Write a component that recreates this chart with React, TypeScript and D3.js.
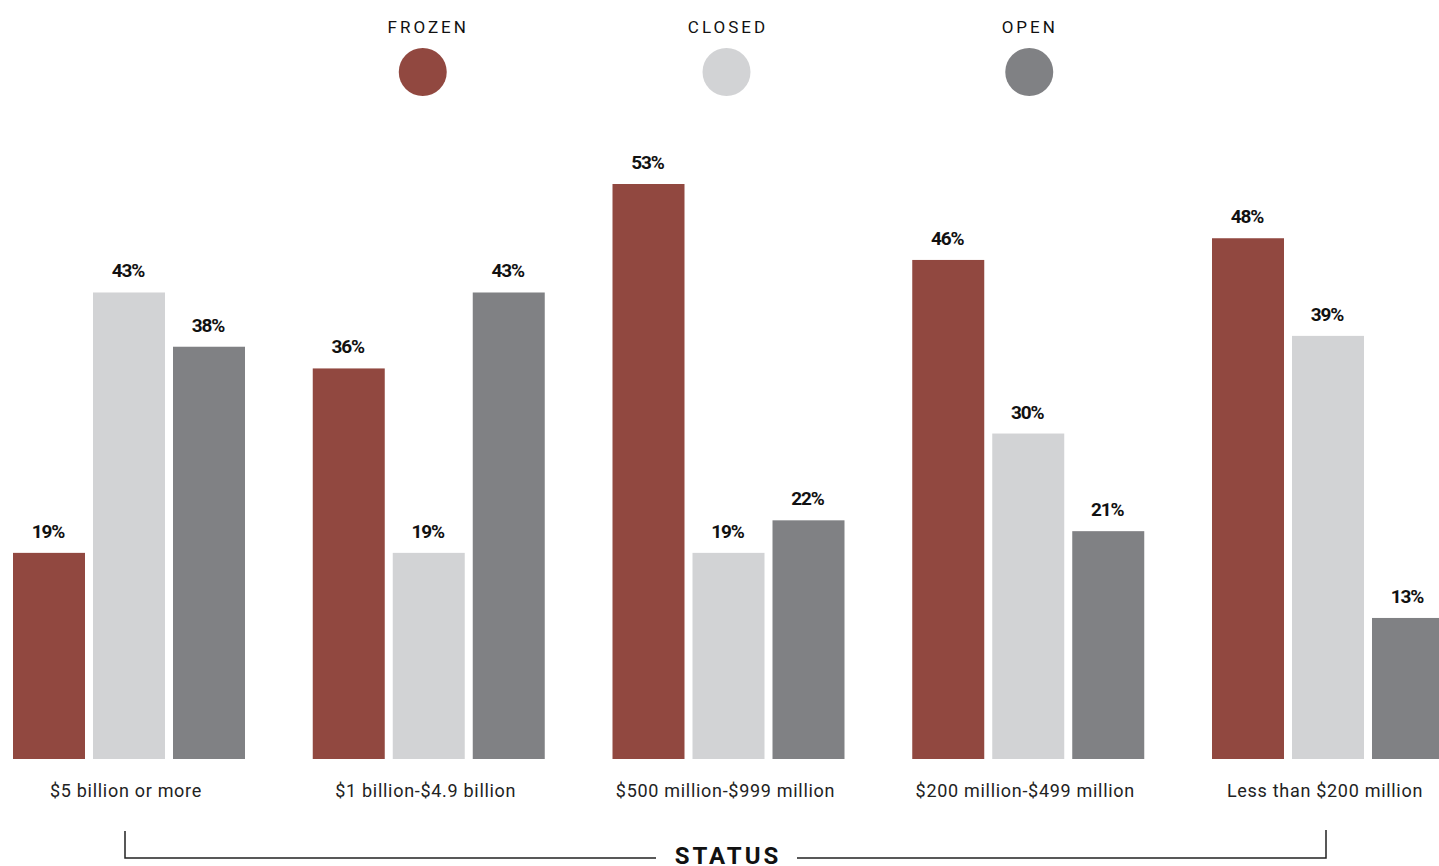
import React from "react";
import * as d3 from "d3";

const categories = [
  "$5 billion or more",
  "$1 billion-$4.9 billion",
  "$500 million-$999 million",
  "$200 million-$499 million",
  "Less than $200 million",
];
const seriesNames = ["FROZEN", "CLOSED", "OPEN"];
const frozen = [19, 36, 53, 46, 48];
const closed = [43, 19, 19, 30, 39];
const open = [38, 43, 22, 21, 13];
const colors = ["#914840", "#d2d3d5", "#808184"];

const W = 1439;
const H = 866;

export default function App() {
  const values = [frozen, closed, open];
  const x0 = d3
    .scaleBand<string>()
    .domain(categories)
    .range([13, 1444])
    .paddingInner(67.75 / 299.75)
    .paddingOuter(0);
  const x1 = d3
    .scaleBand<string>()
    .domain(seriesNames)
    .range([0, x0.bandwidth()])
    .paddingInner(0.1)
    .paddingOuter(0);
  const y = d3.scaleLinear().domain([0, 53]).range([759, 184]);

  const labelFont = "Roboto, 'Liberation Sans', sans-serif";
  const legendX = [
    x0(categories[1])! + x0.bandwidth() / 2 - 6,
    x0(categories[2])! + x0.bandwidth() / 2 - 2,
    x0(categories[3])! + x0.bandwidth() / 2 + 1,
  ];
  const legendTextOffset = [5.5, 1.5, 0.5];

  return (
    <svg
      width={W}
      height={H}
      style={{ position: "absolute", left: 0, top: 0, display: "block", background: "#fff" }}
    >
      {/* legend */}
      {seriesNames.map((s, i) => (
        <g key={s}>
          <text
            x={legendX[i] + legendTextOffset[i]}
            y={33}
            textAnchor="middle"
            fontFamily={labelFont}
            fontSize={17}
            letterSpacing={3}
            fill="#111"
          >
            {s}
          </text>
          <circle cx={legendX[i]} cy={72} r={24} fill={colors[i]} />
        </g>
      ))}

      {/* bars */}
      {categories.map((c, ci) => (
        <g key={c} transform={`translate(${x0(c)},0)`}>
          {seriesNames.map((s, si) => {
            const v = values[si][ci];
            const bx = x1(s)!;
            return (
              <g key={s}>
                <rect x={bx} y={y(v)} width={x1.bandwidth()} height={y(0) - y(v)} fill={colors[si]} />
                <text
                  x={bx + x1.bandwidth() / 2 - 1}
                  y={y(v) - 15}
                  textAnchor="middle"
                  fontFamily={labelFont}
                  fontWeight={700}
                  fontSize={19}
                  letterSpacing={-1.2}
                  fill="#111"
                >
                  {v}%
                </text>
              </g>
            );
          })}
          <text
            x={x0.bandwidth() / 2 - 3}
            y={797}
            textAnchor="middle"
            fontFamily={labelFont}
            fontSize={18}
            letterSpacing={0.7}
            fill="#222"
          >
            {c}
          </text>
        </g>
      ))}

      {/* status bracket */}
      <path
        d="M125,831 V858 H656 M797,858 H1326 V830"
        fill="none"
        stroke="#222"
        strokeWidth={1.5}
      />
      <text
        x={728}
        y={864}
        textAnchor="middle"
        fontFamily={labelFont}
        fontWeight={700}
        fontSize={24}
        letterSpacing={3}
        fill="#111"
      >
        STATUS
      </text>
    </svg>
  );
}
